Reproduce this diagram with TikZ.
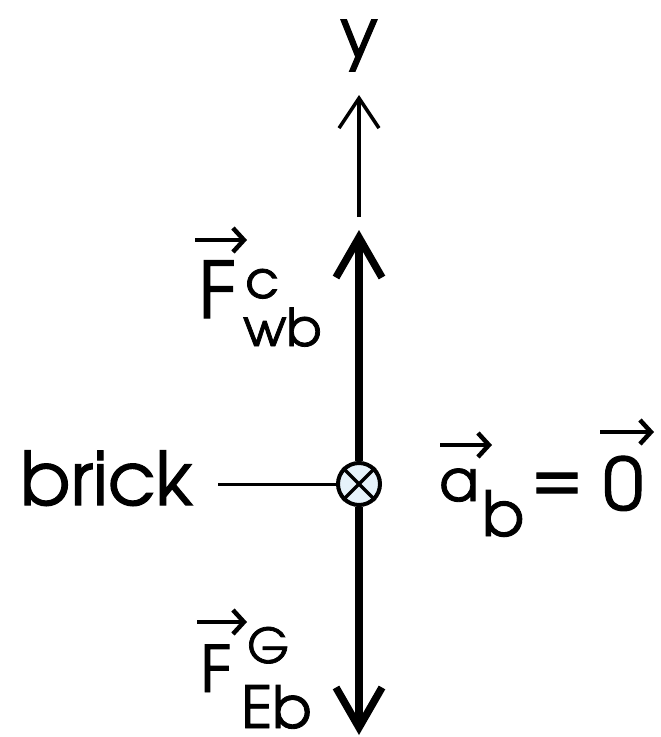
\documentclass[tikz,border=0pt]{standalone}
\usepackage{fontspec}
\setmainfont{TeX Gyre Adventor}[FakeBold=1.5]
\usetikzlibrary{arrows.meta,calc}
\newcommand{\fs}[1]{\fontsize{#1}{#1}\selectfont}
\definecolor{brickfill}{HTML}{E6F2FA}
\tikzset{
  lbl/.style={inner sep=0pt, anchor=base west},
  force/.style={line width=7.5pt, -{Straight Barb[length=40pt, width=46pt]}},
  axisarr/.style={line width=3.5pt, -{Straight Barb[length=30pt, width=40pt]}},
  vecarr/.style={line width=4.5pt, -{Straight Barb[length=11pt, width=24pt]}}
}
\begin{document}
\begin{tikzpicture}[x=1pt, y=-1pt]
        \useasboundingbox (0,0) rectangle (661,737);
        \node[circle, draw, line width=4pt, fill=brickfill, minimum size=42pt, inner sep=0pt] (brick) at (359,484) {};
        \draw[line width=3.5pt] (brick.north west) -- (brick.south east);
        \draw[line width=3.5pt] (brick.north east) -- (brick.south west);
        % forces on the brick
        \coordinate (ftop) at (359,230);
        \coordinate (fbot) at (359,735);
        \draw[force] (brick.north) -- (ftop);
        \draw[force] (brick.south) -- (fbot);
        % y axis
        \coordinate (yb) at (359,217);
        \coordinate (yt) at (359,95);
        \draw[axisarr] (yb) -- (yt);
        \node[inner sep=0pt, anchor=base] (ylab) at (359,58) {\fs{70}y};
        % labels
        \node[lbl] (brickname) at (20,505) {\fs{74}brick};
        \coordinate (lead) at (218,484);
        \draw[line width=3pt] (lead) -- (brick.west);
        \node[lbl] (Fwb) at (198,318) {\fs{78}F};
        \node[lbl] (Fwbsup) at (245,298) {\fs{52}c};
        \node[lbl] (Fwbsub) at (243,346) {\fs{52}wb};
        \node[lbl] (FEb) at (200,692) {\fs{64}F};
        \node[lbl] (FEbsup) at (247,663) {\fs{48}G};
        \node[lbl] (FEbsub) at (241,728) {\fs{58}Eb};
        \node[lbl] (ab) at (439,501) {\fs{58}a};
        \node[lbl] (absub) at (482,536) {\fs{62}b};
        \node[inner sep=0pt] (eq) at (557,487) {\fs{72}=};
        \node[lbl] (zero) at (603,510) {\fs{72}0};
        \foreach \n/\dx/\dy/\len in {Fwb/-3/-78/52, FEb/-3/-70/50, ab/1/-56/52, zero/-3/-78/54}
          \draw[vecarr] ($(\n.base west)+(\dx,\dy)$) -- ++(\len,0);
\end{tikzpicture}
\end{document}
